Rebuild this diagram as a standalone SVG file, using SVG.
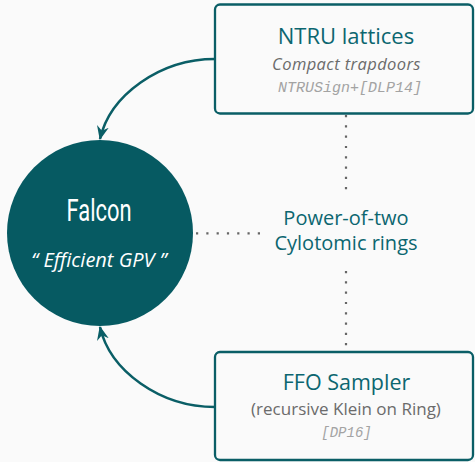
<svg xmlns="http://www.w3.org/2000/svg" width="475" height="462" viewBox="0 0 475 462">
  <style>
    .box { fill: #fafafa; stroke: #0a5e66; stroke-width: 2.3; }
    .title { font-family: "Open Sans", "Noto Sans", sans-serif; fill: #0c6670; text-anchor: middle; }
    .sub { font-family: "Open Sans", "Noto Sans", sans-serif; fill: #6b6b6b; text-anchor: middle; }
    .ref { font-family: "Liberation Mono", monospace; font-style: italic; fill: #a3a3a3; text-anchor: middle; }
    .dots { fill: none; stroke: #666; stroke-width: 2.2; stroke-dasharray: 2.2 8.1; }
    .arrow { fill: none; stroke: #0a5e66; stroke-width: 2.5; marker-end: url(#stealth); }
  </style>
  <defs>
    <marker id="stealth" markerUnits="userSpaceOnUse" viewBox="0 0 14 12" refX="13" refY="6" markerWidth="14" markerHeight="12" orient="auto">
      <path d="M0,0 L14,6 L0,12 L4.5,6 Z" fill="#0a5e66"/>
    </marker>
  </defs>
  <rect width="475" height="462" fill="#fafafa"/>

  <g id="connectors">
    <path class="arrow" d="M215,59 C160,59 110,95 100,139"/>
    <path class="arrow" d="M215,407 C160,407 110,371 100,327"/>
    <path class="dots" d="M346,115 V190"/>
    <path class="dots" d="M346,271 V346"/>
    <path class="dots" d="M196,233.3 H262"/>
  </g>

  <g id="falcon">
    <circle cx="100" cy="233" r="93" fill="#065a62"/>
    <text x="99" y="221" font-family="Roboto, 'Open Sans', sans-serif" font-size="31" fill="#ffffff" text-anchor="middle" textLength="65" lengthAdjust="spacingAndGlyphs">Falcon</text>
    <text x="99" y="267" font-family="'Open Sans', 'Noto Sans', sans-serif" font-size="20" font-style="italic" fill="#ffffff" text-anchor="middle">“ Efficient GPV ”</text>
  </g>

  <g id="ntru">
    <rect class="box" x="215" y="4.5" width="258" height="109" rx="5"/>
    <text class="title" x="346" y="44" font-size="22">NTRU lattices</text>
    <text class="sub" x="346.5" y="70" font-size="16.5" font-style="italic" letter-spacing="0.4">Compact trapdoors</text>
    <text class="ref" x="350" y="92" font-size="15">NTRUSign+[DLP14]</text>
  </g>

  <g id="rings">
    <text class="title" x="346" y="225" font-size="20">Power-of-two</text>
    <text class="title" x="346" y="250" font-size="20">Cylotomic rings</text>
  </g>

  <g id="ffo">
    <rect class="box" x="215" y="352" width="258" height="108" rx="5"/>
    <text class="title" x="346.5" y="390" font-size="21.5">FFO Sampler</text>
    <text class="sub" x="346" y="415" font-size="17">(recursive Klein on Ring)</text>
    <text class="ref" x="346.5" y="437" font-size="14">[DP16]</text>
  </g>
</svg>
